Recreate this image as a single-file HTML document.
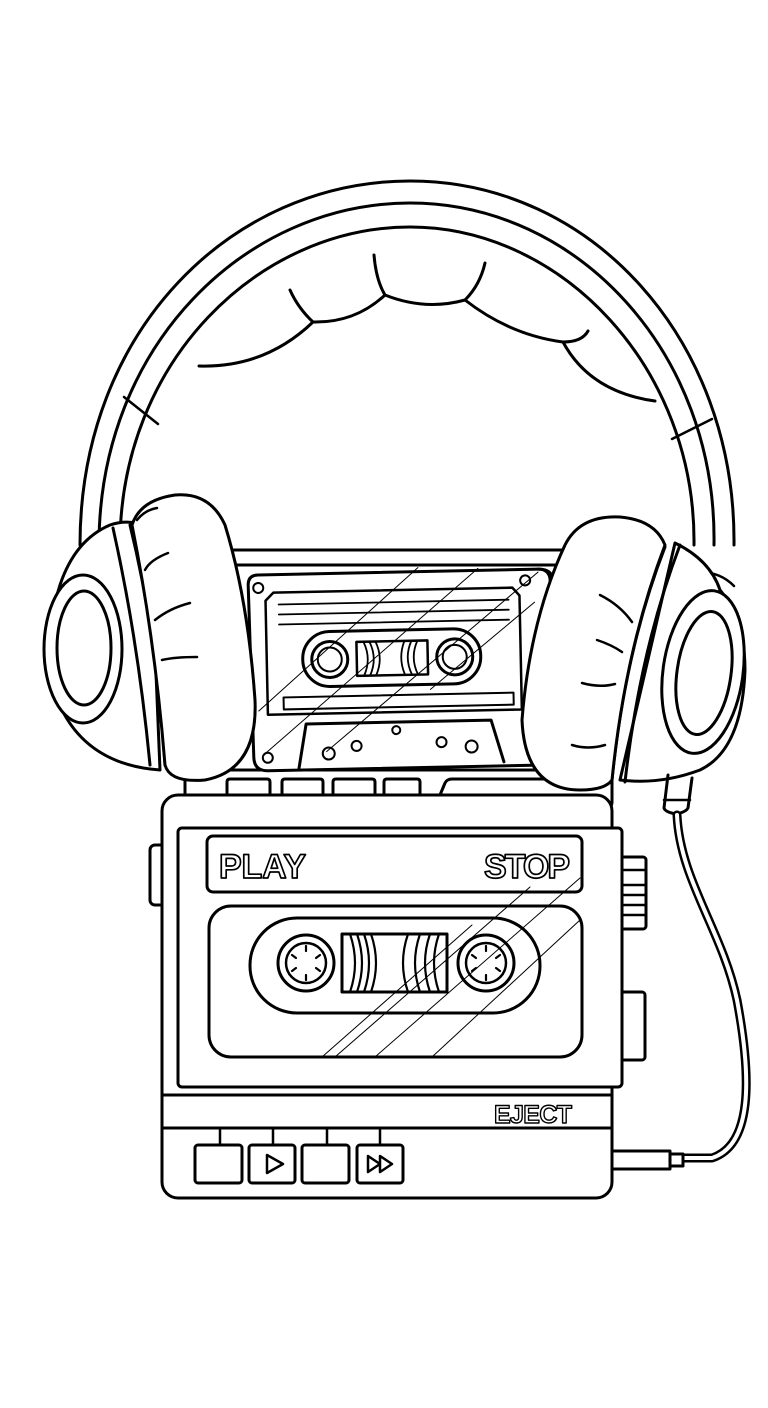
<!DOCTYPE html>
<html><head><meta charset="utf-8"><style>html,body{margin:0;padding:0;background:#fff}svg{display:block}</style></head>
<body>
<svg width="768" height="1408" viewBox="0 0 768 1408" xmlns="http://www.w3.org/2000/svg" fill="none" stroke="#000" stroke-width="3" stroke-linecap="round" stroke-linejoin="round">
<rect x="0" y="0" width="768" height="1408" fill="#fff" stroke="none"/>
<!-- headband -->
<path d="M80 545 C80 330 232 181 410 181 C592 181 736 340 734 545"/>
<path d="M99 545 C99 345 246 203 410 203 C577 203 717 352 714 545"/>
<path d="M120 545 C120 362 258 227 410 227 C562 227 696 368 694 545"/>
<path d="M124 397 L158 424 M672 439 L712 419 M82 549 Q105 540 127 555 M80 600 Q100 590 122 595 M696 573 Q718 570 734 586 M692 610 Q714 615 730 640" stroke-width="2.5"/>
<!-- pad -->
<path d="M199 366 Q265 368 313 322 Q355 323 385 295 Q425 311 465 300 Q510 335 563 342 Q590 392 655 401"/>
<path d="M313 322 Q298 308 290 290 M385 295 Q376 280 374 255 M465 300 Q480 285 485 263 M563 342 Q582 342 588 331"/>
<!-- back body -->
<rect x="185" y="550" width="427" height="260" rx="8" fill="#fff"/>
<line x1="185" y1="565" x2="612" y2="565"/>
<line x1="185" y1="770" x2="612" y2="770"/>
<path d="M227 795 V782 Q227 779 230 779 H267 Q270 779 270 782 V795 M282 795 V782 Q282 779 285 779 H320 Q323 779 323 782 V795 M333 795 V782 Q333 779 336 779 H372 Q375 779 375 782 V795 M384 795 V782 Q384 779 387 779 H417 Q420 779 420 782 V795 M440 795 L445 783 Q447 779 452 779 H560"/>
<!-- back cassette -->
<g transform="rotate(-1.2 400 670)">
<path d="M250 582 Q250 572 260 572 H540 Q552 572 552 584 V758 Q552 768 542 768 H266 Q252 768 252 754 Z" fill="#fff"/>
<path d="M540 572 Q555 572 555 585 V740"/>
<path d="M275 590 H514 L521 598 V712 H267 V598 Z" stroke-width="2.5"/>
<path d="M280 602 H510 M280 612 H510 M280 622 H510" stroke-width="1.8"/>
<rect x="303" y="630" width="178" height="55" rx="27"/>
<circle cx="330" cy="658" r="18"/><circle cx="330" cy="658" r="12" stroke-width="2"/>
<circle cx="455" cy="658" r="18"/><circle cx="455" cy="658" r="12" stroke-width="2"/>
<rect x="357" y="641" width="71" height="34" stroke-width="2.5"/>
<path d="M364 641 Q372 658 364 675 M370 641 Q378 658 370 675 M376 641 Q384 658 376 675 M405 641 Q398 658 405 675 M412 641 Q404 658 412 675 M418 641 Q410 658 418 675" stroke-width="1.8"/>
<rect x="283" y="695" width="230" height="12" stroke-width="2"/>
<path d="M297 766 L305 722 H490 L502 764"/>
<circle cx="260" cy="585" r="5" stroke-width="2"/><circle cx="527" cy="583" r="5" stroke-width="2"/><circle cx="266" cy="755" r="5" stroke-width="2"/>
<circle cx="395" cy="730" r="4" stroke-width="2"/><circle cx="355" cy="745" r="5" stroke-width="2"/><circle cx="327" cy="752" r="6" stroke-width="2"/><circle cx="440" cy="743" r="5" stroke-width="2"/><circle cx="470" cy="748" r="6" stroke-width="2"/>
<path d="M258 708 L420 568 M262 752 L480 570 M325 750 L540 575 M430 690 L536 605" stroke-width="1"/>
</g>
<!-- left earcup -->
<path d="M110 525 Q75 540 60 585 Q38 650 62 710 Q90 765 160 770 L150 528 Q130 518 110 525 Z" fill="#fff"/>
<ellipse cx="83" cy="649" rx="39" ry="74" fill="#fff"/>
<ellipse cx="84" cy="648" rx="27" ry="57"/>
<path d="M113 528 Q138 640 150 765 M130 525 Q158 640 165 765"/>
<path d="M132 525 Q140 500 175 495 Q210 492 225 525 Q248 600 255 700 Q258 770 205 780 Q170 783 165 765 Q155 640 132 525 Z" fill="#fff"/>
<path d="M137 520 Q145 510 157 508 M145 570 Q150 560 168 553 M155 620 Q170 608 190 603 M162 660 Q175 657 197 657" stroke-width="2.5"/>
<!-- right earcup -->
<path d="M675 543 Q710 560 720 590 Q745 620 745 670 Q742 750 700 770 Q660 785 620 780 Z" fill="#fff"/>
<ellipse cx="703" cy="672" rx="40" ry="82" transform="rotate(8 703 672)" fill="#fff"/>
<ellipse cx="704" cy="673" rx="27" ry="62" transform="rotate(8 704 673)"/>
<path d="M665 547 Q625 650 612 780 M680 545 Q640 650 625 782"/>
<path d="M665 545 Q655 520 620 517 Q580 515 565 545 Q530 620 522 720 Q525 790 580 790 Q605 790 612 780 Q625 650 665 545 Z" fill="#fff"/>
<path d="M600 595 Q620 605 632 622 M597 640 Q612 645 622 652 M582 683 Q600 688 615 684 M572 745 Q588 750 605 745" stroke-width="2.5"/>
<!-- plug + cable -->
<path d="M668 775 L664 808 Q665 812 676 814 Q686 812 688 808 L692 778"/>
<path d="M664 800 H690" stroke-width="2.5"/>
<path d="M677 815 C680 880 722 930 737 1000 C752 1080 752 1145 712 1158 L683 1158" stroke-width="9"/>
<path d="M677 815 C680 880 722 930 737 1000 C752 1080 752 1145 712 1158 L683 1158" stroke="#fff" stroke-width="4"/>
<rect x="612" y="1151" width="58" height="18" fill="#fff"/>
<rect x="670" y="1154" width="13" height="12" fill="#fff"/>
<!-- side knobs -->
<rect x="150" y="845" width="16" height="60" rx="5" fill="#fff"/>
<rect x="618" y="857" width="28" height="72" rx="3" fill="#fff"/>
<path d="M622 870 H646 M622 885 H646 M622 895 H646 M622 905 H646 M622 915 H646" stroke-width="2.5"/>
<rect x="618" y="992" width="27" height="68" rx="3" fill="#fff"/>
<!-- front body -->
<rect x="162" y="795" width="450" height="403" rx="16" fill="#fff"/>
<rect x="178" y="828" width="444" height="259" rx="4" fill="#fff"/>
<rect x="207" y="836" width="375" height="56" rx="6"/>
<text x="219" y="878" font-family="Liberation Sans, sans-serif" font-weight="bold" font-size="34" textLength="87" fill="#fff" stroke="#000" stroke-width="1.7">PLAY</text>
<text x="484" y="878" font-family="Liberation Sans, sans-serif" font-weight="bold" font-size="34" textLength="86" fill="#fff" stroke="#000" stroke-width="1.7">STOP</text>
<rect x="209" y="906" width="373" height="151" rx="22"/>
<rect x="250" y="918" width="290" height="95" rx="47"/>
<circle cx="306" cy="963" r="28"/><circle cx="306" cy="963" r="20" stroke-width="2.5"/>
<circle cx="486" cy="963" r="28"/><circle cx="486" cy="963" r="20" stroke-width="2.5"/>
<g stroke-width="2.2">
<path d="M306 946 v5 M306 975 v5 M292 955 l4 3 M316 968 l4 3 M292 971 l4 -3 M316 958 l4 -3"/>
<path d="M486 946 v5 M486 975 v5 M472 955 l4 3 M496 968 l4 3 M472 971 l4 -3 M496 958 l4 -3"/>
</g>
<rect x="342" y="934" width="105" height="58"/>
<path d="M350 934 Q360 963 350 992 M357 934 Q367 963 357 992 M364 934 Q374 963 364 992 M371 934 Q381 963 371 992 M408 934 Q398 963 408 992 M420 934 Q410 963 420 992 M430 934 Q420 963 430 992 M439 934 Q429 963 439 992" stroke-width="2.2"/>
<path d="M322 1057 L472 925 M335 1057 L530 887 M375 1057 L580 878 M432 1057 L580 920" stroke-width="1"/>
<line x1="162" y1="1095" x2="612" y2="1095"/>
<line x1="162" y1="1128" x2="612" y2="1128"/>
<text x="494" y="1123" font-family="Liberation Sans, sans-serif" font-weight="bold" font-size="25" textLength="78" fill="#fff" stroke="#000" stroke-width="1.4">EJECT</text>
<path d="M220 1128 V1145 M273 1128 V1145 M327 1128 V1145 M380 1128 V1145" stroke-width="2.5"/>
<rect x="195" y="1145" width="47" height="38" rx="3"/>
<rect x="249" y="1145" width="46" height="38" rx="3"/>
<rect x="302" y="1145" width="47" height="38" rx="3"/>
<rect x="357" y="1145" width="46" height="38" rx="3"/>
<path d="M267 1155 L283 1164 L267 1173 Z" stroke-width="2.5"/>
<path d="M368 1156 L380 1164 L368 1172 Z M380 1156 L392 1164 L380 1172 Z" stroke-width="2.5"/>
</svg>
</body></html>
